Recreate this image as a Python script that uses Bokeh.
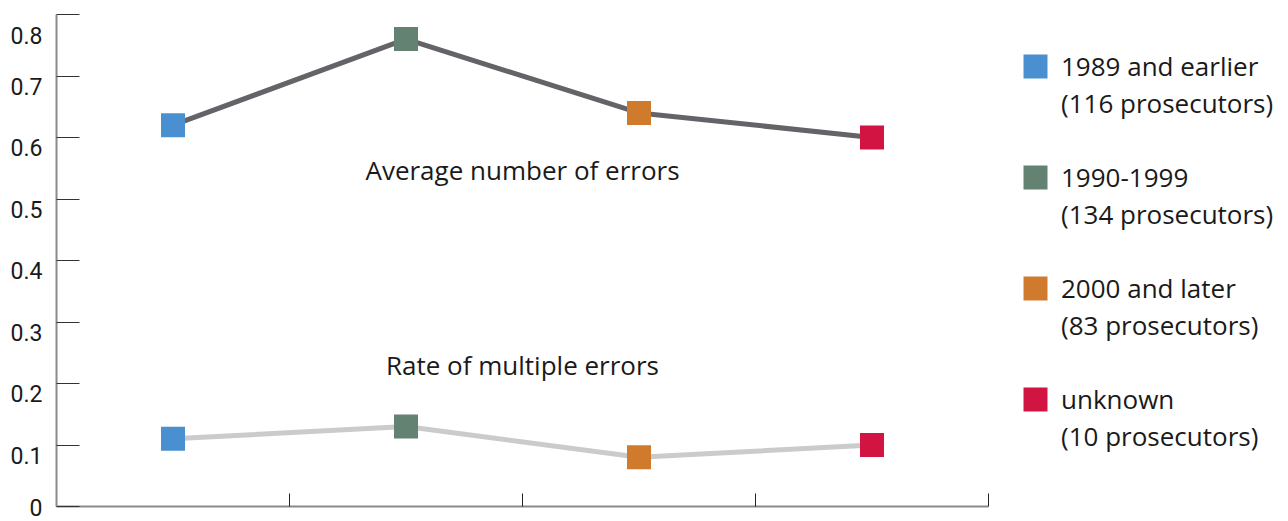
from bokeh.plotting import figure
from bokeh.models import Range1d, FixedTicker, Legend, LegendItem
from bokeh.core.properties import value
from bokeh.embed import file_html
from bokeh.resources import INLINE

# ---- data ----
groups = ["1989 and earlier", "1990-1999", "2000 and later", "unknown"]
counts = ["(116 prosecutors)", "(134 prosecutors)", "(83 prosecutors)", "(10 prosecutors)"]
positions = [1, 2, 3, 4]
avg_errors = [0.62, 0.76, 0.64, 0.60]
multi_rate = [0.11, 0.13, 0.08, 0.10]
colors = ["#4a8fd0", "#638272", "#d07a2e", "#d11442"]
y_ticks = [0, 0.1, 0.2, 0.3, 0.4, 0.5, 0.6, 0.7, 0.8]
y_tick_labels = ["0", "0.1", "0.2", "0.3", "0.4", "0.5", "0.6", "0.7", "0.8"]
x_ticks = [1.5, 2.5, 3.5, 4.5]

# layout: frame spans to the right edge; axis bounded to the 4 categories
W, H = 1288, 521
LEFT = 56
FRAME_W = W - LEFT
AXIS_W = 932
x_end = 0.5 + 4 * FRAME_W / AXIS_W

p = figure(width=W, height=H, output_backend="svg", toolbar_location=None,
           x_range=Range1d(0.5, x_end), y_range=Range1d(0, 0.8),
           min_border_left=LEFT, min_border_right=0, min_border_top=14, min_border_bottom=15)
p.outline_line_color = None
p.grid.grid_line_color = None
p.background_fill_color = "white"

# axes
p.xaxis.bounds = (0.5, 4.5)
p.xaxis.ticker = FixedTicker(ticks=x_ticks)
p.xaxis.major_label_overrides = {t: "" for t in x_ticks}
p.xaxis.major_tick_in = 13
p.xaxis.major_tick_out = 0
p.xaxis.minor_tick_line_color = None
p.xaxis.axis_line_color = "#8a8a8a"
p.xaxis.axis_line_width = 2
p.xaxis.major_tick_line_color = "#222222"

p.yaxis.ticker = FixedTicker(ticks=y_ticks)
# a leading empty line makes each label hang just below its tick, as in the original
p.yaxis.major_label_overrides = {t: "\n" + lab for t, lab in zip(y_ticks, y_tick_labels)}
p.yaxis.major_label_text_line_height = 0.85
p.yaxis.major_label_text_font = "Roboto"
p.yaxis.major_label_text_font_size = "23px"
p.yaxis.major_label_text_color = "#1a1a1a"
p.yaxis.major_label_standoff = 14
p.yaxis.major_tick_in = 23
p.yaxis.major_tick_out = 0
p.yaxis.minor_tick_line_color = None
p.yaxis.axis_line_color = "#8a8a8a"
p.yaxis.axis_line_width = 2
p.yaxis.major_tick_line_color = "#333333"

# lines
p.line(positions, multi_rate, line_color="#cbcbcb", line_width=5)
p.line(positions, avg_errors, line_color="#636368", line_width=5)

swatches = []
for i in range(4):
    r = p.rect([positions[i]], [avg_errors[i]], width=24, height=24,
               width_units="screen", height_units="screen",
               fill_color=colors[i], line_color=None)
    swatches.append(r)
    p.rect([positions[i]], [multi_rate[i]], width=24, height=24,
           width_units="screen", height_units="screen",
           fill_color=colors[i], line_color=None)
blank = p.rect(positions, avg_errors, width=24, height=24,
               width_units="screen", height_units="screen",
               fill_alpha=0, line_alpha=0)

# annotations
p.text(x=[2.5], y=[0.547], text=["Average number of errors"], text_align="center",
       text_baseline="middle", text_font=value("Open Sans"), text_font_size="26px",
       text_color="#1a1a1a")
p.text(x=[2.5], y=[0.23], text=["Rate of multiple errors"], text_align="center",
       text_baseline="middle", text_font=value("Open Sans"), text_font_size="26px",
       text_color="#1a1a1a")

items = []
for i in range(4):
    items.append(LegendItem(label=groups[i], renderers=[swatches[i]]))
    items.append(LegendItem(label=counts[i], renderers=[blank]))
    if i < 3:
        items.append(LegendItem(label=" ", renderers=[blank]))

ROW = 37
n_rows = len(items)
legend_top = 66 - ROW / 2
legend_bottom = legend_top + n_rows * ROW
legend = Legend(items=items, location=(1020 - LEFT, int(round(506 - legend_bottom))))
legend.border_line_color = None
legend.background_fill_alpha = 0
legend.label_text_font = "Open Sans"
legend.label_text_font_size = "26px"
legend.label_text_color = "#1a1a1a"
legend.label_height = ROW
legend.glyph_width = 30
legend.glyph_height = 30
legend.spacing = 0
legend.margin = 0
legend.padding = 0
legend.label_standoff = 11
p.add_layout(legend, "center")

open("out.html", "w").write(file_html(p, INLINE))
